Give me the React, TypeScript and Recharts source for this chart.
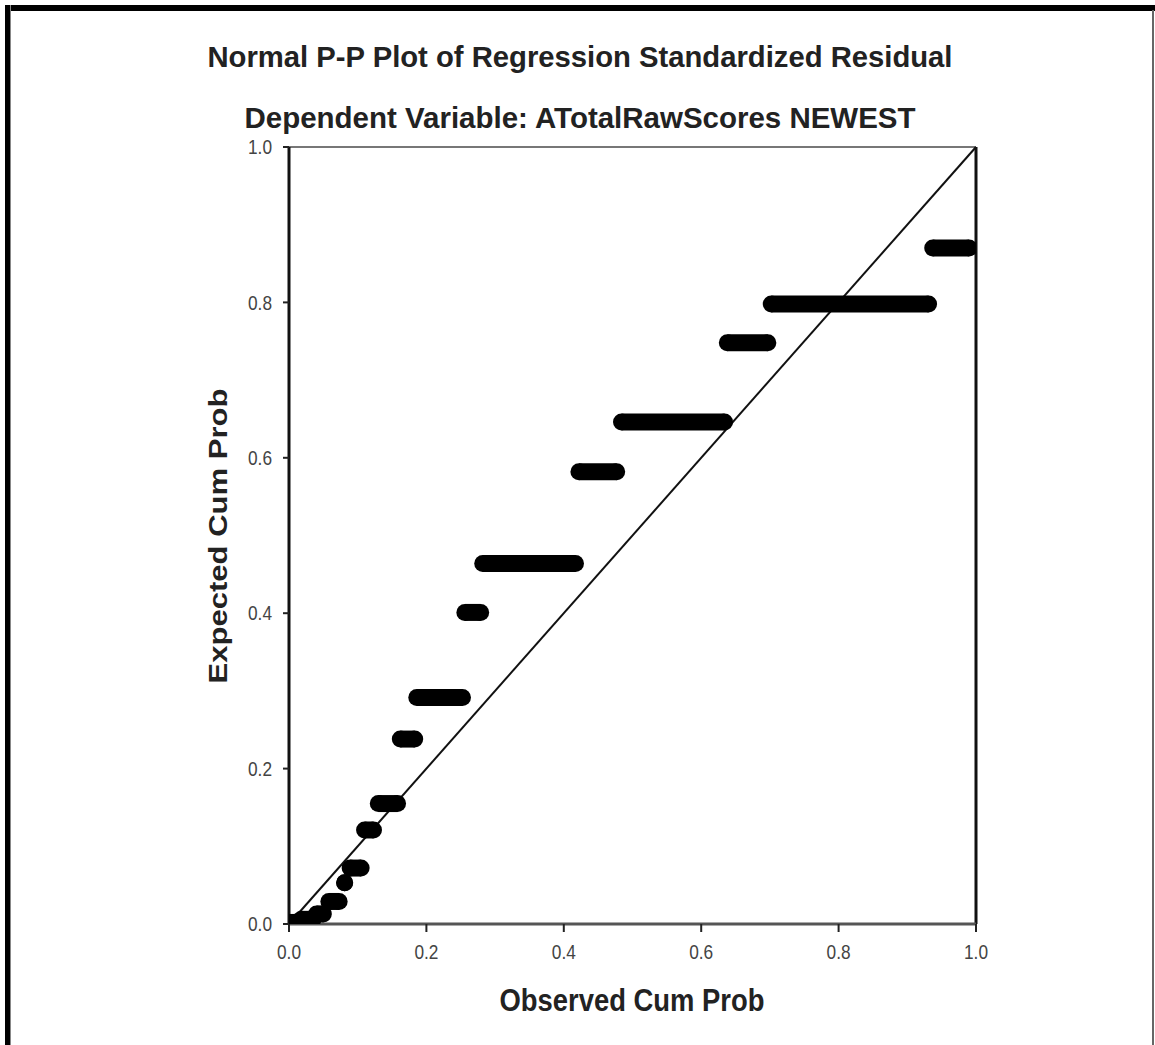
import { ScatterChart, Scatter, XAxis, YAxis, ReferenceLine } from 'recharts';

// each horizontal run of tied residuals: expected cum prob, observed from / to
const expectedCum = [0.002, 0.006, 0.013, 0.029, 0.053, 0.072, 0.121, 0.155, 0.238, 0.2915, 0.401, 0.464, 0.582, 0.646, 0.748, 0.798, 0.87];
const observedFrom = [0.0, 0.018, 0.04, 0.058, 0.081, 0.089, 0.11, 0.13, 0.162, 0.186, 0.256, 0.282, 0.422, 0.484, 0.638, 0.702, 0.937];
const observedTo = [0.012, 0.035, 0.05, 0.073, 0.081, 0.105, 0.123, 0.158, 0.183, 0.2525, 0.279, 0.417, 0.477, 0.634, 0.697, 0.931, 0.99];

const xTicks = [0, 0.2, 0.4, 0.6, 0.8, 1.0];
const yTicks = [0, 0.2, 0.4, 0.6, 0.8, 1.0];

const runs = expectedCum.map((y, i) => [
    { x: observedFrom[i], y },
    { x: observedTo[i], y },
]);

const FONT = '"Liberation Sans", Arial, sans-serif';

function Dot(props: any) {
    return <circle cx={props.cx} cy={props.cy} r={8.5} fill="#000" />;
}

function XTick(props: any) {
    const { x, y, payload } = props;
    return (
        <text x={x} y={y} dy="0.71em" textAnchor="middle" fontSize={20} fontFamily={FONT}
            fill="#444" textLength={24} lengthAdjust="spacingAndGlyphs">
            {payload.value.toFixed(1)}
        </text>
    );
}

function YTick(props: any) {
    const { x, y, payload } = props;
    return (
        <text x={x} y={y} dy="0.36em" textAnchor="end" fontSize={20} fontFamily={FONT}
            fill="#444" textLength={24} lengthAdjust="spacingAndGlyphs">
            {payload.value.toFixed(1)}
        </text>
    );
}

function App() {
    return (
        <div style={{ position: 'absolute', left: 0, top: 0, width: 1155, height: 1045, background: '#fff' }}>
            <ScatterChart width={1155} height={1045} margin={{ top: 147, right: 179, bottom: 81, left: 239 }}>
                <XAxis type="number" dataKey="x" domain={[0, 1]} ticks={xTicks} height={40}
                    axisLine={{ stroke: '#555', strokeWidth: 3 }} tickLine={{ stroke: '#222', strokeWidth: 2 }}
                    tickSize={8} tickMargin={13} tick={<XTick />} allowDataOverflow />
                <YAxis type="number" dataKey="y" domain={[0, 1]} ticks={yTicks} width={50}
                    axisLine={{ stroke: '#111', strokeWidth: 3 }} tickLine={{ stroke: '#222', strokeWidth: 2 }}
                    tickSize={6} tickMargin={11} tick={<YTick />} allowDataOverflow />
                <ReferenceLine y={1} stroke="#777" strokeWidth={2} />
                <ReferenceLine x={1} stroke="#111" strokeWidth={3} />
                <ReferenceLine segment={[{ x: 0, y: 0 }, { x: 1, y: 1 }]} stroke="#111" strokeWidth={2} />
                {runs.map((run, i) => (
                    <Scatter key={i} data={run} fill="#000" shape={<Dot />}
                        line={{ stroke: '#000', strokeWidth: 17 }} isAnimationActive={false} />
                ))}
            </ScatterChart>
            <svg width={1155} height={1045} style={{ position: 'absolute', left: 0, top: 0, pointerEvents: 'none' }}>
                <text x={580} y={67} textAnchor="middle" fontSize={30} fontWeight={700} fontFamily={FONT}
                    fill="#222" textLength={745} lengthAdjust="spacingAndGlyphs">
                    Normal P-P Plot of Regression Standardized Residual
                </text>
                <text x={580} y={128} textAnchor="middle" fontSize={29} fontWeight={700} fontFamily={FONT}
                    fill="#222" textLength={671} lengthAdjust="spacingAndGlyphs">
                    Dependent Variable: ATotalRawScores NEWEST
                </text>
                <text x={632} y={1011} textAnchor="middle" fontSize={31} fontWeight={700} fontFamily={FONT}
                    fill="#222" textLength={265} lengthAdjust="spacingAndGlyphs">
                    Observed Cum Prob
                </text>
                <g transform="translate(227,536) scale(0.86,1) rotate(-90)">
                    <text x={0} y={0} textAnchor="middle" fontSize={31} fontWeight={700} fontFamily={FONT}
                        fill="#222" textLength={295} lengthAdjust="spacingAndGlyphs">
                        Expected Cum Prob
                    </text>
                </g>
            </svg>
            <div style={{ position: 'absolute', left: 5, top: 5, width: 1150, height: 6, background: '#000' }} />
            <div style={{ position: 'absolute', left: 5, top: 5, width: 5, height: 1040, background: '#000', borderRight: '1px solid #888' }} />
            <div style={{ position: 'absolute', left: 1152, top: 10, width: 2, height: 1035, background: '#666' }} />
        </div>
    );
}

export default App;
